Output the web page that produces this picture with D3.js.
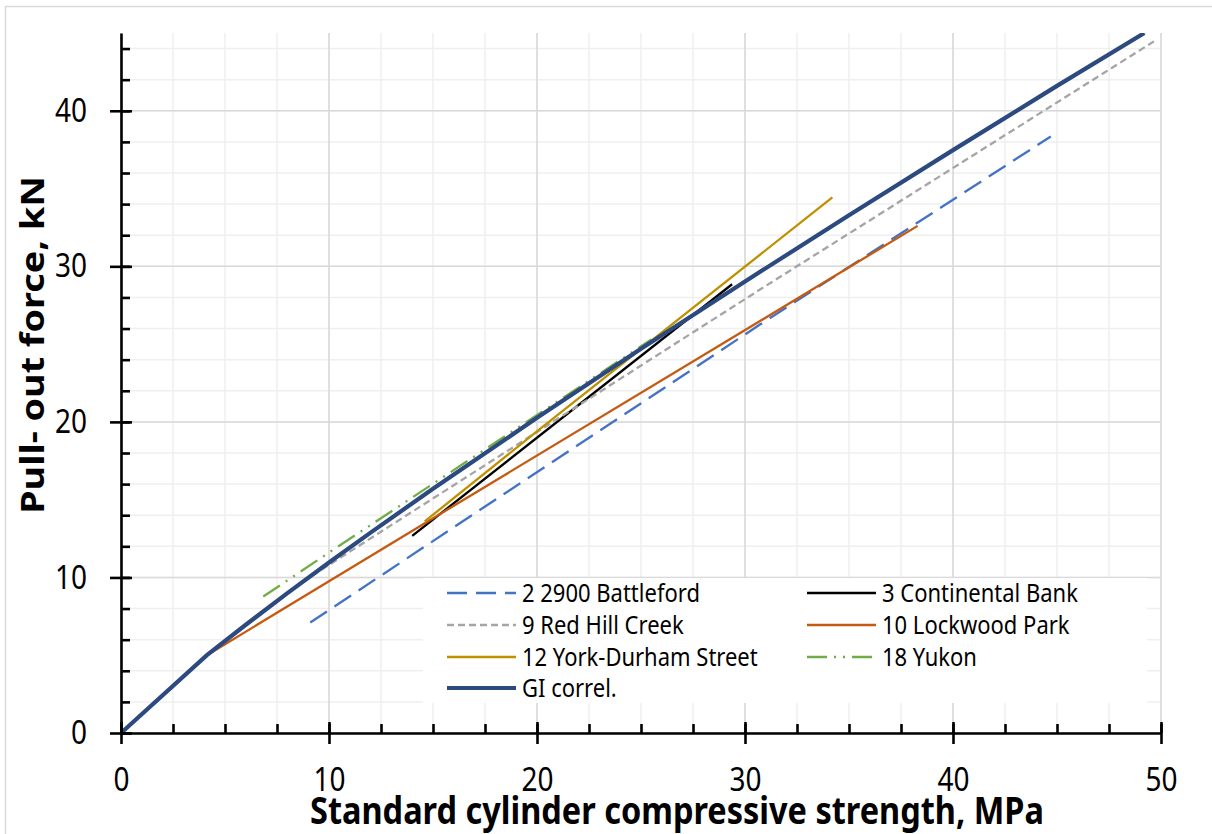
<!DOCTYPE html>
<html>
<head>
<meta charset="utf-8">
<script src="https://cdn.jsdelivr.net/npm/d3@7"></script>
<style>
  body { margin: 0; background: #fff; }
  svg { display: block; font-family: "Noto Sans", sans-serif; }
</style>
</head>
<body>
<svg id="chart" width="1212" height="834"></svg>
<script>
// series values [MPa, kN]
const battleford = [[9.1, 7.1], [15.8, 13.05], [30.7, 26.24], [44.7, 38.35]];
const continental = [[14.0, 12.67], [29.38, 28.85]];
const redHill = [[9.2, 10.12], [11.0, 11.66], [22.4, 21.4], [30.7, 28.49], [49.66, 44.46]];
const lockwood = [[4.13, 5.0], [15.8, 14.45], [38.3, 32.6]];
const yorkDurham = [[14.6, 13.6], [20.1, 19.5], [34.2, 34.43]];
const yukon = [[6.84, 8.77], [10.0, 11.6], [22.07, 22.27], [25.5, 25.3]];
const giCorrel = [[0, 0], [4.13, 5.0], [6, 6.96], [8, 8.99], [10, 10.96], [12, 12.88], [15, 15.7],
    [20, 20.26], [25, 24.7], [30, 29.03], [35, 33.28], [40, 37.47], [45, 41.6], [49.2, 45.0]];

const seriesNames = ['2 2900 Battleford', '3 Continental Bank', '9 Red Hill Creek', '10 Lockwood Park',
    '12 York-Durham Street', '18 Yukon', 'GI correl.'];
const seriesValues = [battleford, continental, redHill, lockwood, yorkDurham, yukon, giCorrel];

const xMajorTicks = [0, 10, 20, 30, 40, 50];
const yMajorTicks = [0, 10, 20, 30, 40];
const xMinorStep = 2.5;
const yMinorStep = 2;

// line looks, same order as the series
const styles = [
    { color: '#4472C4', width: 2.3, dash: '20,9' },
    { color: '#000000', width: 2.3, dash: null },
    { color: '#A5A5A5', width: 2.3, dash: '7,4' },
    { color: '#C55A11', width: 2.3, dash: null },
    { color: '#BF9000', width: 2.3, dash: null },
    { color: '#70AD47', width: 2.3, dash: '20,7,2,7,2,7' },
    { color: '#2C4A7F', width: 4.2, dash: null }
];

// the reference text is drawn a little taller than wide
const stretch = 1.18;

const svg = d3.select('#chart');

const x = d3.scaleLinear().domain([0, 50]).range([121, 1161]);
const y = d3.scaleLinear().domain([0, 45]).range([733, 33]);

// outer chart border (runs off the right and bottom of the picture)
svg.append('rect')
    .attr('x', 5.5)
    .attr('y', 6.5)
    .attr('width', 1240)
    .attr('height', 860)
    .attr('fill', '#fff')
    .attr('stroke', '#d9d9d9')
    .attr('stroke-width', 1.5);

const xMinor = d3.range(0, 50 + 0.001, xMinorStep);
const yMinor = d3.range(0, 45, yMinorStep);

// gridlines: light minor first, then darker major
const grid = svg.append('g');
grid.selectAll('.gx-minor')
    .data(xMinor)
    .join('line')
    .attr('x1', d => x(d)).attr('x2', d => x(d))
    .attr('y1', y(0)).attr('y2', y(45))
    .attr('stroke', '#efefef')
    .attr('stroke-width', 1.5);
grid.selectAll('.gy-minor')
    .data(yMinor)
    .join('line')
    .attr('x1', x(0)).attr('x2', x(50))
    .attr('y1', d => y(d)).attr('y2', d => y(d))
    .attr('stroke', '#efefef')
    .attr('stroke-width', 1.5);
grid.selectAll('.gx-major')
    .data(xMajorTicks)
    .join('line')
    .attr('x1', d => x(d)).attr('x2', d => x(d))
    .attr('y1', y(0)).attr('y2', y(45))
    .attr('stroke', '#d9d9d9')
    .attr('stroke-width', 1.5);
grid.selectAll('.gy-major')
    .data(yMajorTicks)
    .join('line')
    .attr('x1', x(0)).attr('x2', x(50))
    .attr('y1', d => y(d)).attr('y2', d => y(d))
    .attr('stroke', '#d9d9d9')
    .attr('stroke-width', 1.5);

// series lines
svg.append('clipPath')
    .attr('id', 'plot-clip')
    .append('rect')
    .attr('x', x(0)).attr('y', y(45))
    .attr('width', x(50) - x(0)).attr('height', y(0) - y(45));

const line = d3.line()
    .x(d => x(d[0]))
    .y(d => y(d[1]));

svg.append('g')
    .attr('clip-path', 'url(#plot-clip)')
    .selectAll('path')
    .data(seriesValues)
    .join('path')
    .attr('d', line)
    .attr('fill', 'none')
    .attr('stroke', (d, i) => styles[i].color)
    .attr('stroke-width', (d, i) => styles[i].width)
    .attr('stroke-dasharray', (d, i) => styles[i].dash);

// axes: major ticks cross the line, minor ticks point inward
const axisColor = '#000';
const axisWidth = 2.6;

const gY = svg.append('g')
    .attr('transform', `translate(${x(0)},0)`)
    .call(d3.axisLeft(y).tickValues(yMajorTicks).tickSize(11).tickSizeOuter(0).tickPadding(23));
svg.append('g')
    .attr('transform', `translate(${x(0)},0)`)
    .call(d3.axisRight(y).tickValues(yMinor).tickSize(9).tickSizeOuter(0).tickFormat(''))
    .call(g => g.select('.domain').remove());
gY.selectAll('.tick line').attr('x1', 11);

const gX = svg.append('g')
    .attr('transform', `translate(0,${y(0)})`)
    .call(d3.axisBottom(x).tickValues(xMajorTicks).tickSize(11).tickSizeOuter(0));
svg.append('g')
    .attr('transform', `translate(0,${y(0)})`)
    .call(d3.axisTop(x).tickValues(xMinor).tickSize(9).tickSizeOuter(0).tickFormat(''))
    .call(g => g.select('.domain').remove());
gX.selectAll('.tick line').attr('y1', -11);
gX.selectAll('.tick text')
    .attr('y', 58 / stretch)
    .attr('dy', null);

svg.selectAll('.domain, .tick line')
    .attr('stroke', axisColor)
    .attr('stroke-width', axisWidth);
svg.selectAll('.tick text')
    .attr('fill', '#000')
    .attr('transform', `scale(1,${stretch})`)
    .style('font-size', '28px')
    .style('font-family', '"Noto Sans", sans-serif');

// axis titles
svg.append('text')
    .attr('transform', `translate(677,824) scale(1,${stretch})`)
    .attr('text-anchor', 'middle')
    .style('font-size', '32.5px')
    .style('font-weight', 'bold')
    .text('Standard cylinder compressive strength, MPa');

svg.append('text')
    .attr('transform', `translate(44,345) scale(1,${stretch}) rotate(-90)`)
    .attr('text-anchor', 'middle')
    .style('font-size', '32px')
    .style('font-weight', 'bold')
    .text('Pull- out force, kN');

// legend
const legend = svg.append('g');
legend.append('rect')
    .attr('x', 423)
    .attr('y', 578)
    .attr('width', 724)
    .attr('height', 125)
    .attr('fill', '#fff');

const colX = [447, 807];
const rowY = [593, 625, 657, 688];
const entry = legend.selectAll('.entry')
    .data(seriesNames)
    .join('g')
    .attr('transform', (d, i) => `translate(${colX[i % 2]},${rowY[Math.floor(i / 2)]})`);
entry.append('line')
    .attr('x1', 0).attr('x2', 69)
    .attr('stroke', (d, i) => styles[i].color)
    .attr('stroke-width', (d, i) => styles[i].width)
    .attr('stroke-dasharray', (d, i) => styles[i].dash);
entry.append('text')
    .attr('x', 75)
    .attr('dy', '0.35em')
    .attr('transform', `scale(1,${stretch})`)
    .style('font-size', '22px')
    .text(d => d);
</script>
</body>
</html>
